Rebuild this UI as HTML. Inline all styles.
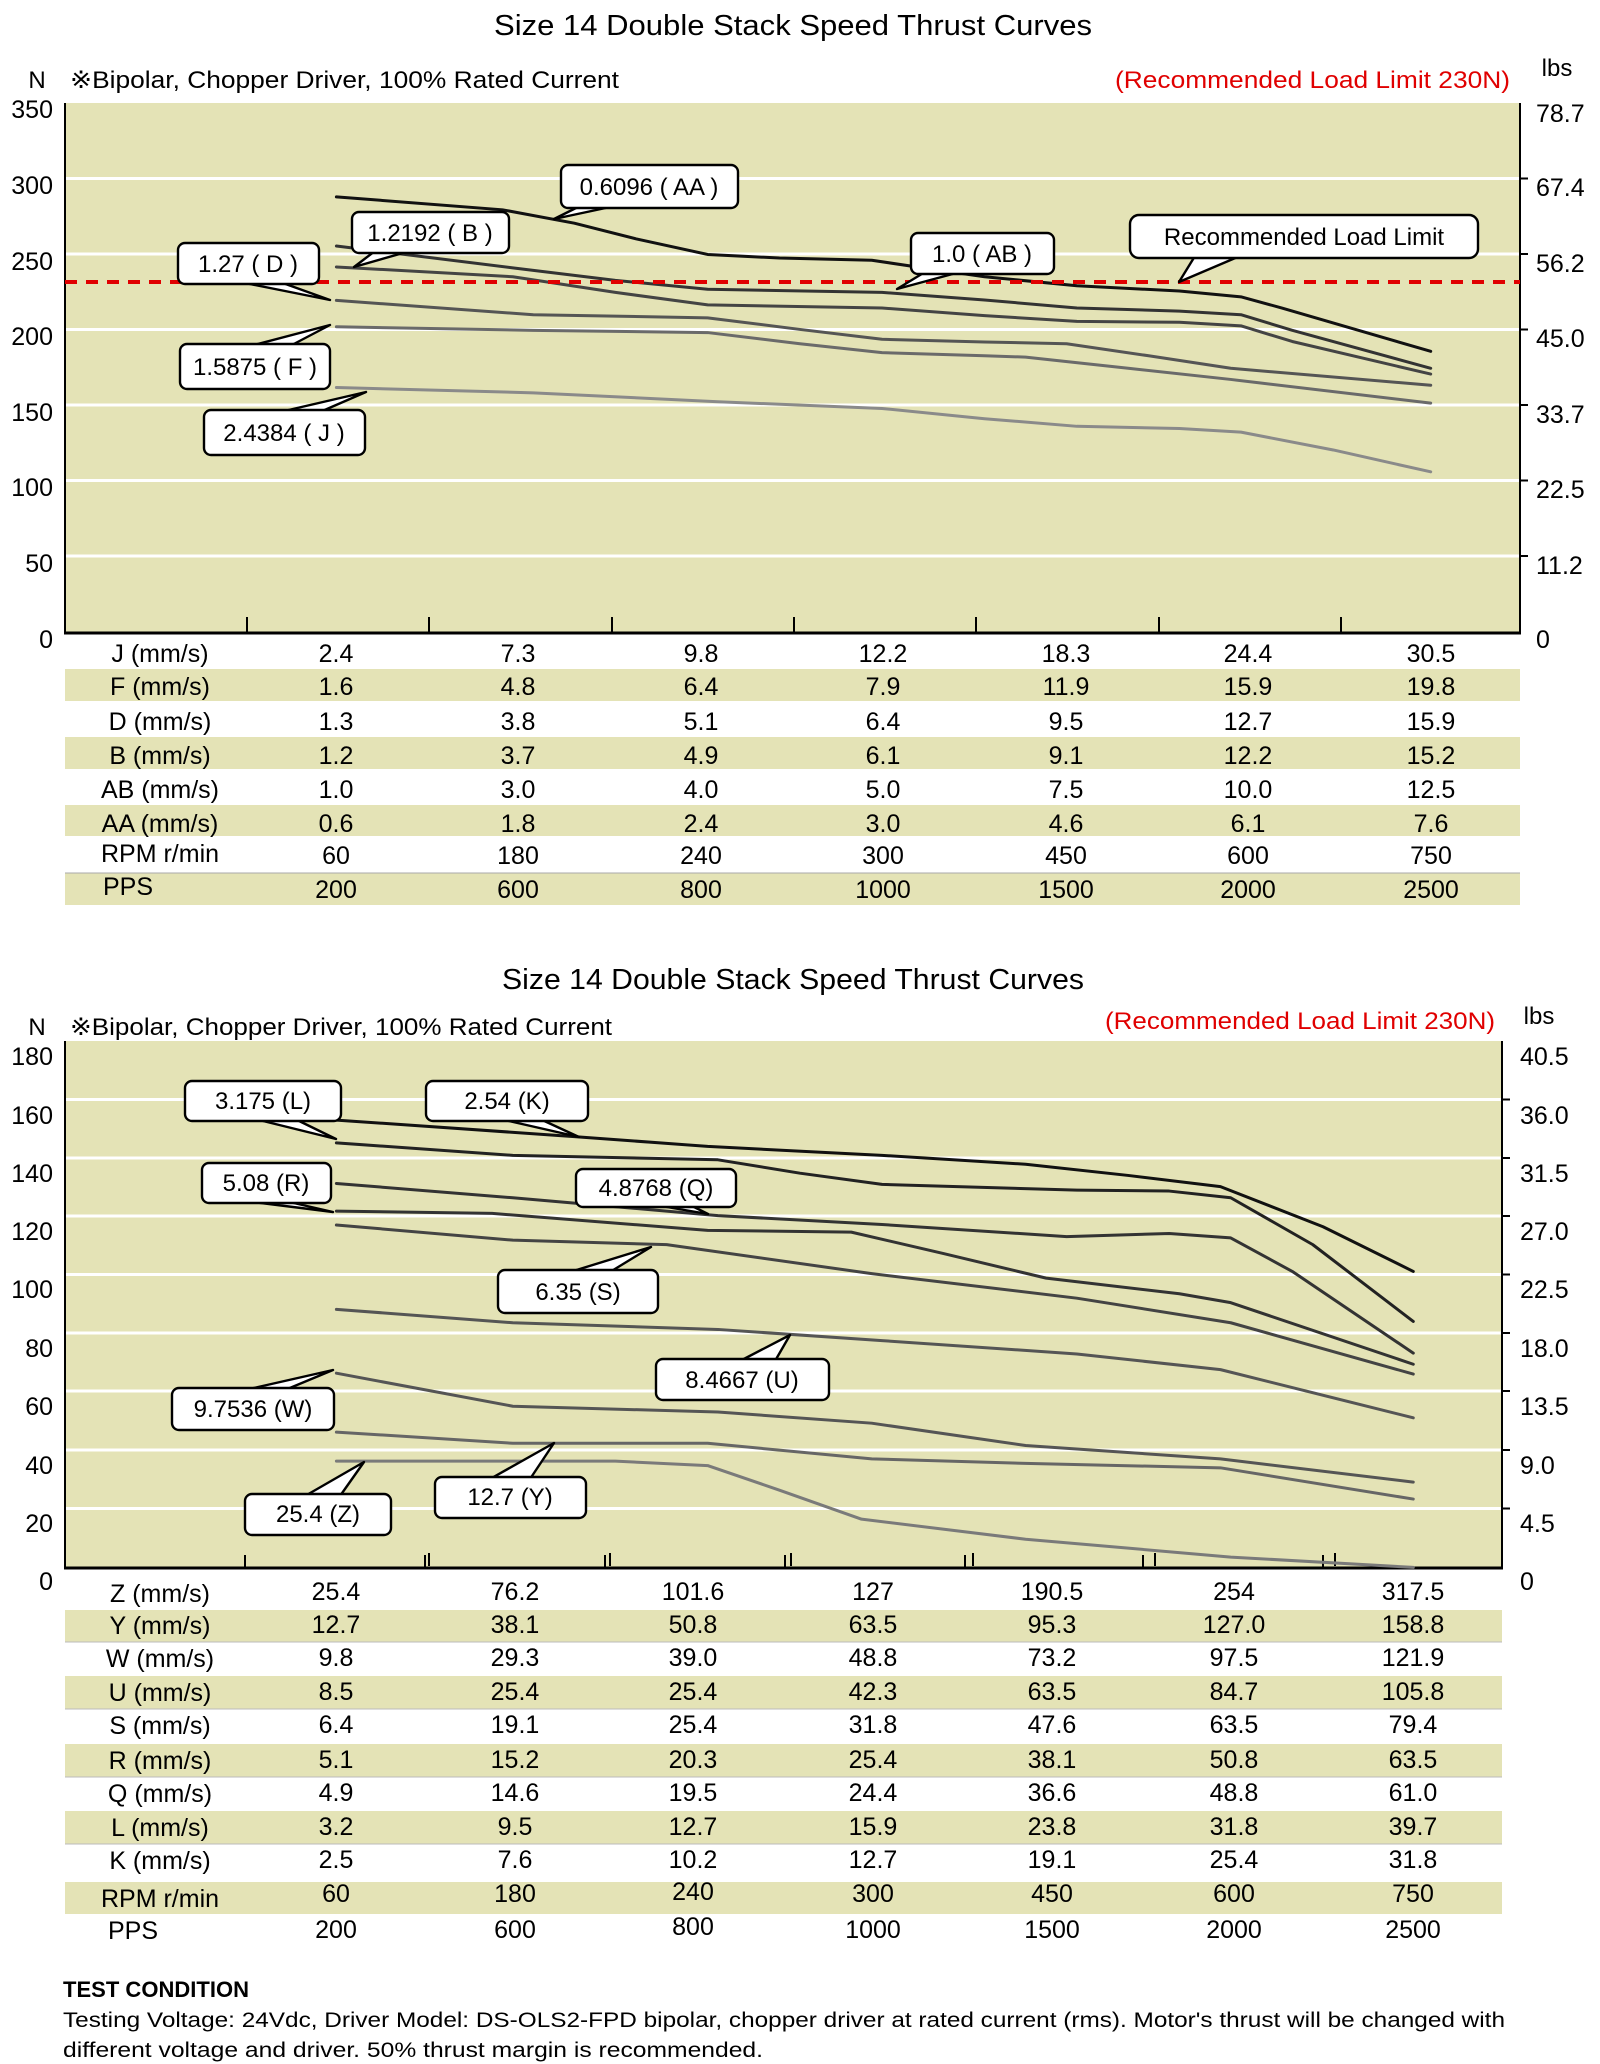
<!DOCTYPE html>
<html><head><meta charset="utf-8"><style>
body{margin:0;background:#fff}
svg{display:block;font-family:"Liberation Sans",sans-serif}
</style></head><body>
<svg width="1600" height="2064" viewBox="0 0 1600 2064" xmlns="http://www.w3.org/2000/svg">
<!-- ============ CHART 1 ============ -->
<text x="494" y="35" font-size="29" textLength="598" lengthAdjust="spacingAndGlyphs">Size 14  Double Stack Speed Thrust Curves</text>
<text x="37" y="88" font-size="24" text-anchor="middle">N</text>
<text x="70" y="88" font-size="24" textLength="549" lengthAdjust="spacingAndGlyphs">※Bipolar, Chopper Driver, 100% Rated Current</text>
<text x="1115" y="88" font-size="24" fill="#e00000" textLength="395" lengthAdjust="spacingAndGlyphs">(Recommended Load Limit 230N)</text>
<text x="1557" y="76" font-size="24" text-anchor="middle">lbs</text>
<rect x="65" y="103" width="1455" height="529" fill="#e4e3b6"/>
<g stroke="#fff" stroke-width="3">
<line x1="65" x2="1520" y1="178.5" y2="178.5"/><line x1="65" x2="1520" y1="254" y2="254"/>
<line x1="65" x2="1520" y1="329.5" y2="329.5"/><line x1="65" x2="1520" y1="405" y2="405"/>
<line x1="65" x2="1520" y1="480.5" y2="480.5"/><line x1="65" x2="1520" y1="556" y2="556"/>
</g>
<g stroke="#000" stroke-width="2">
<line x1="65" y1="103" x2="65" y2="634"/><line x1="1520" y1="103" x2="1520" y2="634"/>
<line x1="64" y1="633" x2="1521" y2="633" stroke-width="3"/>
<line x1="247" y1="633" x2="247" y2="617"/><line x1="429" y1="633" x2="429" y2="617"/>
<line x1="612" y1="633" x2="612" y2="617"/><line x1="794" y1="633" x2="794" y2="617"/>
<line x1="976" y1="633" x2="976" y2="617"/><line x1="1159" y1="633" x2="1159" y2="617"/>
<line x1="1341" y1="633" x2="1341" y2="617"/>
<line x1="1520" y1="178.5" x2="1528" y2="178.5"/><line x1="1520" y1="254" x2="1528" y2="254"/>
<line x1="1520" y1="329.5" x2="1528" y2="329.5"/><line x1="1520" y1="405" x2="1528" y2="405"/>
<line x1="1520" y1="480.5" x2="1528" y2="480.5"/><line x1="1520" y1="556" x2="1528" y2="556"/>
</g>
<g font-size="25" text-anchor="end">
<text x="53" y="118">350</text><text x="53" y="194">300</text><text x="53" y="270">250</text>
<text x="53" y="345">200</text><text x="53" y="421">150</text><text x="53" y="496">100</text>
<text x="53" y="572">50</text><text x="53" y="648">0</text>
</g>
<g font-size="25">
<text x="1536" y="122">78.7</text><text x="1536" y="196">67.4</text><text x="1536" y="272">56.2</text>
<text x="1536" y="347">45.0</text><text x="1536" y="423">33.7</text><text x="1536" y="498">22.5</text>
<text x="1536" y="574">11.2</text><text x="1536" y="648">0</text>
</g>
<g fill="none" stroke-linejoin="round" stroke-linecap="round" transform="scale(1.0256,0.4464)">
<polyline vector-effect="non-scaling-stroke" stroke="#111" stroke-width="3" points="328,441 490,470 560,500 620,535 690,570 760,578 850,583 900,600 960,620 1050,640 1150,652 1210,665 1250,690 1395,787"/>
<polyline vector-effect="non-scaling-stroke" stroke="#333" stroke-width="3" points="328,551 500,600 600,628 690,648 860,655 960,672 1050,690 1150,697 1210,705 1260,740 1395,825"/>
<polyline vector-effect="non-scaling-stroke" stroke="#444" stroke-width="3" points="328,598 500,620 600,655 690,683 860,690 960,707 1050,720 1150,722 1210,730 1260,765 1395,838"/>
<polyline vector-effect="non-scaling-stroke" stroke="#555" stroke-width="3" points="328,673 520,705 690,712 780,738 860,760 960,766 1040,770 1120,797 1200,825 1395,863"/>
<polyline vector-effect="non-scaling-stroke" stroke="#6a6a6a" stroke-width="3" points="328,732 520,740 690,745 780,770 860,790 960,797 1000,800 1100,825 1200,850 1395,903"/>
<polyline vector-effect="non-scaling-stroke" stroke="#8a8a8a" stroke-width="3" points="328,868 520,880 700,900 860,915 960,938 1050,955 1150,960 1210,968 1300,1008 1395,1057"/>
</g>
<line x1="65" y1="282" x2="1520" y2="282" stroke="#e00000" stroke-width="4" stroke-dasharray="12,9"/>
<g fill="#fff" stroke="#000" stroke-width="2.4" stroke-linejoin="round">
<polygon points="580,206 615,206 554,219"/><rect x="561" y="165" width="177" height="43" rx="7"/>
<polygon points="375,251 410,251 354,267"/><rect x="352" y="212" width="157" height="41" rx="7"/>
<polygon points="240,282 280,282 330,300"/><rect x="178" y="243" width="141" height="41" rx="7"/>
<polygon points="925,272 960,272 897,289"/><rect x="911" y="233" width="143" height="41" rx="7"/>
<polygon points="1195,256 1240,256 1179,282"/><rect x="1130" y="215" width="348" height="43" rx="9"/>
<polygon points="250,346 290,346 330,325"/><rect x="180" y="344" width="150" height="45" rx="7"/>
<polygon points="280,412 320,412 366,392"/><rect x="204" y="410" width="161" height="45" rx="7"/>
</g>
<g font-size="24" text-anchor="middle">
<text x="649" y="195">0.6096 ( AA )</text>
<text x="430" y="241">1.2192 ( B )</text>
<text x="248" y="272">1.27 ( D )</text>
<text x="982" y="262">1.0 ( AB )</text>
<text x="1304" y="245">Recommended Load Limit</text>
<text x="255" y="375">1.5875 ( F )</text>
<text x="284" y="441">2.4384 ( J )</text>
</g>
<g fill="#e4e3b6">
<rect x="65" y="669" width="1455" height="32"/><rect x="65" y="737" width="1455" height="32"/>
<rect x="65" y="805" width="1455" height="31"/><rect x="65" y="873" width="1455" height="32"/>
</g>
<line x1="65" y1="873" x2="1520" y2="873" stroke="#aaa" stroke-width="1"/>
<g font-size="25" text-anchor="middle">
<g><text x="160" y="662">J (mm/s)</text><text x="336" y="662">2.4</text><text x="518" y="662">7.3</text><text x="701" y="662">9.8</text><text x="883" y="662">12.2</text><text x="1066" y="662">18.3</text><text x="1248" y="662">24.4</text><text x="1431" y="662">30.5</text></g>
<g><text x="160" y="695">F (mm/s)</text><text x="336" y="695">1.6</text><text x="518" y="695">4.8</text><text x="701" y="695">6.4</text><text x="883" y="695">7.9</text><text x="1066" y="695">11.9</text><text x="1248" y="695">15.9</text><text x="1431" y="695">19.8</text></g>
<g><text x="160" y="730">D (mm/s)</text><text x="336" y="730">1.3</text><text x="518" y="730">3.8</text><text x="701" y="730">5.1</text><text x="883" y="730">6.4</text><text x="1066" y="730">9.5</text><text x="1248" y="730">12.7</text><text x="1431" y="730">15.9</text></g>
<g><text x="160" y="764">B (mm/s)</text><text x="336" y="764">1.2</text><text x="518" y="764">3.7</text><text x="701" y="764">4.9</text><text x="883" y="764">6.1</text><text x="1066" y="764">9.1</text><text x="1248" y="764">12.2</text><text x="1431" y="764">15.2</text></g>
<g><text x="160" y="798">AB (mm/s)</text><text x="336" y="798">1.0</text><text x="518" y="798">3.0</text><text x="701" y="798">4.0</text><text x="883" y="798">5.0</text><text x="1066" y="798">7.5</text><text x="1248" y="798">10.0</text><text x="1431" y="798">12.5</text></g>
<g><text x="160" y="832">AA (mm/s)</text><text x="336" y="832">0.6</text><text x="518" y="832">1.8</text><text x="701" y="832">2.4</text><text x="883" y="832">3.0</text><text x="1066" y="832">4.6</text><text x="1248" y="832">6.1</text><text x="1431" y="832">7.6</text></g>
<g><text x="160" y="862">RPM r/min</text><text x="336" y="864">60</text><text x="518" y="864">180</text><text x="701" y="864">240</text><text x="883" y="864">300</text><text x="1066" y="864">450</text><text x="1248" y="864">600</text><text x="1431" y="864">750</text></g>
<g><text x="128" y="895">PPS</text><text x="336" y="898">200</text><text x="518" y="898">600</text><text x="701" y="898">800</text><text x="883" y="898">1000</text><text x="1066" y="898">1500</text><text x="1248" y="898">2000</text><text x="1431" y="898">2500</text></g>
</g>

<!-- ============ CHART 2 ============ -->
<text x="502" y="989" font-size="29" textLength="582" lengthAdjust="spacingAndGlyphs">Size 14 Double Stack Speed Thrust Curves</text>
<text x="37" y="1035" font-size="24" text-anchor="middle">N</text>
<text x="70" y="1035" font-size="24" textLength="542" lengthAdjust="spacingAndGlyphs">※Bipolar, Chopper Driver, 100% Rated Current</text>
<text x="1105" y="1029" font-size="24" fill="#e00000" textLength="390" lengthAdjust="spacingAndGlyphs">(Recommended Load Limit 230N)</text>
<text x="1539" y="1024" font-size="24" text-anchor="middle">lbs</text>
<rect x="65" y="1041" width="1437" height="526" fill="#e4e3b6"/>
<g stroke="#fff" stroke-width="3">
<line x1="65" x2="1502" y1="1099.5" y2="1099.5"/><line x1="65" x2="1502" y1="1158" y2="1158"/>
<line x1="65" x2="1502" y1="1216" y2="1216"/><line x1="65" x2="1502" y1="1274.5" y2="1274.5"/>
<line x1="65" x2="1502" y1="1333" y2="1333"/><line x1="65" x2="1502" y1="1391" y2="1391"/>
<line x1="65" x2="1502" y1="1450" y2="1450"/><line x1="65" x2="1502" y1="1508.5" y2="1508.5"/>
</g>
<g stroke="#000" stroke-width="2">
<line x1="65" y1="1041" x2="65" y2="1569"/><line x1="1502" y1="1041" x2="1502" y2="1569"/>
<line x1="64" y1="1568" x2="1503" y2="1568" stroke-width="3"/>
<line x1="1502" y1="1099.5" x2="1510" y2="1099.5"/><line x1="1502" y1="1158" x2="1510" y2="1158"/>
<line x1="1502" y1="1216" x2="1510" y2="1216"/><line x1="1502" y1="1274.5" x2="1510" y2="1274.5"/>
<line x1="1502" y1="1333" x2="1510" y2="1333"/><line x1="1502" y1="1391" x2="1510" y2="1391"/>
<line x1="1502" y1="1450" x2="1510" y2="1450"/><line x1="1502" y1="1508.5" x2="1510" y2="1508.5"/>
<line x1="245" y1="1568" x2="245" y2="1555"/><line x1="425" y1="1568" x2="425" y2="1555"/><line x1="429" y1="1566" x2="429" y2="1553"/>
<line x1="605" y1="1568" x2="605" y2="1555"/><line x1="610" y1="1566" x2="610" y2="1553"/>
<line x1="785" y1="1568" x2="785" y2="1555"/><line x1="791" y1="1566" x2="791" y2="1553"/>
<line x1="965" y1="1568" x2="965" y2="1555"/><line x1="973" y1="1566" x2="973" y2="1553"/>
<line x1="1143" y1="1568" x2="1143" y2="1555"/><line x1="1155" y1="1566" x2="1155" y2="1553"/>
<line x1="1323" y1="1568" x2="1323" y2="1555"/><line x1="1335" y1="1566" x2="1335" y2="1553"/>
</g>
<g font-size="25" text-anchor="end">
<text x="53" y="1065">180</text><text x="53" y="1124">160</text><text x="53" y="1182">140</text>
<text x="53" y="1240">120</text><text x="53" y="1298">100</text><text x="53" y="1357">80</text>
<text x="53" y="1415">60</text><text x="53" y="1474">40</text><text x="53" y="1532">20</text><text x="53" y="1590">0</text>
</g>
<g font-size="25">
<text x="1520" y="1065">40.5</text><text x="1520" y="1124">36.0</text><text x="1520" y="1182">31.5</text>
<text x="1520" y="1240">27.0</text><text x="1520" y="1298">22.5</text><text x="1520" y="1357">18.0</text>
<text x="1520" y="1415">13.5</text><text x="1520" y="1474">9.0</text><text x="1520" y="1532">4.5</text><text x="1520" y="1590">0</text>
</g>
<g fill="none" stroke-linejoin="round" stroke-linecap="round" transform="translate(0,950) scale(1.0256,0.4464)">
<polyline vector-effect="non-scaling-stroke" stroke="#111" stroke-width="3" points="328,381 560,418 690,440 860,460 1000,480 1100,505 1190,530 1290,620 1378,720"/>
<polyline vector-effect="non-scaling-stroke" stroke="#222" stroke-width="3" points="328,432 500,460 700,470 780,500 860,525 1050,538 1140,540 1200,555 1280,660 1378,832"/>
<polyline vector-effect="non-scaling-stroke" stroke="#333" stroke-width="3" points="328,523 500,555 700,595 860,615 1040,642 1140,635 1200,645 1260,720 1378,903"/>
<polyline vector-effect="non-scaling-stroke" stroke="#333" stroke-width="3" points="328,585 480,590 690,628 830,632 920,680 1020,735 1150,770 1200,790 1378,928"/>
<polyline vector-effect="non-scaling-stroke" stroke="#444" stroke-width="3" points="328,616 500,650 650,660 850,725 1050,780 1200,835 1378,950"/>
<polyline vector-effect="non-scaling-stroke" stroke="#555" stroke-width="3" points="328,805 500,835 700,850 860,875 1050,905 1190,940 1378,1048"/>
<polyline vector-effect="non-scaling-stroke" stroke="#555" stroke-width="3" points="328,948 500,1022 700,1035 850,1060 1000,1110 1190,1140 1378,1192"/>
<polyline vector-effect="non-scaling-stroke" stroke="#666" stroke-width="3" points="328,1080 500,1105 690,1105 850,1140 1000,1150 1190,1160 1378,1230"/>
<polyline vector-effect="non-scaling-stroke" stroke="#7a7a7a" stroke-width="3" points="328,1145 600,1145 690,1155 760,1210 840,1275 1000,1320 1100,1340 1200,1360 1378,1383"/>
</g>
<g fill="#fff" stroke="#000" stroke-width="2.4" stroke-linejoin="round">
<polygon points="255,1119 295,1119 336,1139"/><rect x="185" y="1081" width="156" height="40" rx="7"/>
<polygon points="500,1119 540,1119 579,1137"/><rect x="426" y="1081" width="162" height="40" rx="7"/>
<polygon points="245,1201 285,1201 333,1212"/><rect x="202" y="1163" width="129" height="40" rx="7"/>
<polygon points="655,1205 690,1205 708,1214"/><rect x="576" y="1169" width="160" height="38" rx="7"/>
<polygon points="570,1272 610,1272 651,1247"/><rect x="498" y="1270" width="160" height="43" rx="7"/>
<polygon points="740,1361 775,1361 790,1335"/><rect x="656" y="1359" width="173" height="41" rx="7"/>
<polygon points="245,1390 285,1390 333,1370"/><rect x="172" y="1388" width="162" height="42" rx="7"/>
<polygon points="305,1496 340,1496 364,1462"/><rect x="245" y="1494" width="146" height="41" rx="7"/>
<polygon points="490,1479 530,1479 554,1443"/><rect x="435" y="1477" width="151" height="41" rx="7"/>
</g>
<g font-size="24" text-anchor="middle">
<text x="263" y="1109">3.175  (L)</text>
<text x="507" y="1109">2.54  (K)</text>
<text x="266" y="1191">5.08  (R)</text>
<text x="656" y="1196">4.8768  (Q)</text>
<text x="578" y="1300">6.35  (S)</text>
<text x="742" y="1388">8.4667  (U)</text>
<text x="253" y="1417">9.7536  (W)</text>
<text x="318" y="1522">25.4  (Z)</text>
<text x="510" y="1505">12.7  (Y)</text>
</g>
<g fill="#e4e3b6">
<rect x="65" y="1610" width="1437" height="32"/><rect x="65" y="1676" width="1437" height="33"/>
<rect x="65" y="1744" width="1437" height="33"/><rect x="65" y="1811" width="1437" height="33"/>
<rect x="65" y="1882" width="1437" height="32"/>
</g>
<g stroke="#bbb" stroke-width="1">
<line x1="65" x2="1502" y1="1642" y2="1642"/><line x1="65" x2="1502" y1="1709" y2="1709"/>
<line x1="65" x2="1502" y1="1777" y2="1777"/><line x1="65" x2="1502" y1="1844" y2="1844"/>
</g>
<g font-size="25" text-anchor="middle">
<g><text x="160" y="1602">Z (mm/s)</text><text x="336" y="1600">25.4</text><text x="515" y="1600">76.2</text><text x="693" y="1600">101.6</text><text x="873" y="1600">127</text><text x="1052" y="1600">190.5</text><text x="1234" y="1600">254</text><text x="1413" y="1600">317.5</text></g>
<g><text x="160" y="1634">Y (mm/s)</text><text x="336" y="1633">12.7</text><text x="515" y="1633">38.1</text><text x="693" y="1633">50.8</text><text x="873" y="1633">63.5</text><text x="1052" y="1633">95.3</text><text x="1234" y="1633">127.0</text><text x="1413" y="1633">158.8</text></g>
<g><text x="160" y="1667">W (mm/s)</text><text x="336" y="1666">9.8</text><text x="515" y="1666">29.3</text><text x="693" y="1666">39.0</text><text x="873" y="1666">48.8</text><text x="1052" y="1666">73.2</text><text x="1234" y="1666">97.5</text><text x="1413" y="1666">121.9</text></g>
<g><text x="160" y="1701">U (mm/s)</text><text x="336" y="1700">8.5</text><text x="515" y="1700">25.4</text><text x="693" y="1700">25.4</text><text x="873" y="1700">42.3</text><text x="1052" y="1700">63.5</text><text x="1234" y="1700">84.7</text><text x="1413" y="1700">105.8</text></g>
<g><text x="160" y="1734">S (mm/s)</text><text x="336" y="1733">6.4</text><text x="515" y="1733">19.1</text><text x="693" y="1733">25.4</text><text x="873" y="1733">31.8</text><text x="1052" y="1733">47.6</text><text x="1234" y="1733">63.5</text><text x="1413" y="1733">79.4</text></g>
<g><text x="160" y="1769">R (mm/s)</text><text x="336" y="1768">5.1</text><text x="515" y="1768">15.2</text><text x="693" y="1768">20.3</text><text x="873" y="1768">25.4</text><text x="1052" y="1768">38.1</text><text x="1234" y="1768">50.8</text><text x="1413" y="1768">63.5</text></g>
<g><text x="160" y="1802">Q (mm/s)</text><text x="336" y="1801">4.9</text><text x="515" y="1801">14.6</text><text x="693" y="1801">19.5</text><text x="873" y="1801">24.4</text><text x="1052" y="1801">36.6</text><text x="1234" y="1801">48.8</text><text x="1413" y="1801">61.0</text></g>
<g><text x="160" y="1836">L (mm/s)</text><text x="336" y="1835">3.2</text><text x="515" y="1835">9.5</text><text x="693" y="1835">12.7</text><text x="873" y="1835">15.9</text><text x="1052" y="1835">23.8</text><text x="1234" y="1835">31.8</text><text x="1413" y="1835">39.7</text></g>
<g><text x="160" y="1869">K (mm/s)</text><text x="336" y="1868">2.5</text><text x="515" y="1868">7.6</text><text x="693" y="1868">10.2</text><text x="873" y="1868">12.7</text><text x="1052" y="1868">19.1</text><text x="1234" y="1868">25.4</text><text x="1413" y="1868">31.8</text></g>
<g><text x="160" y="1907">RPM r/min</text><text x="336" y="1902">60</text><text x="515" y="1902">180</text><text x="693" y="1900">240</text><text x="873" y="1902">300</text><text x="1052" y="1902">450</text><text x="1234" y="1902">600</text><text x="1413" y="1902">750</text></g>
<g><text x="133" y="1939">PPS</text><text x="336" y="1938">200</text><text x="515" y="1938">600</text><text x="693" y="1935">800</text><text x="873" y="1938">1000</text><text x="1052" y="1938">1500</text><text x="1234" y="1938">2000</text><text x="1413" y="1938">2500</text></g>
</g>
<text x="63" y="1997" font-size="22" font-weight="bold" textLength="186">TEST CONDITION</text>
<text x="63" y="2027" font-size="21" textLength="1442" lengthAdjust="spacingAndGlyphs">Testing Voltage: 24Vdc, Driver Model: DS-OLS2-FPD bipolar, chopper driver at rated current (rms). Motor's thrust will be changed with</text>
<text x="63" y="2057" font-size="21" textLength="700" lengthAdjust="spacingAndGlyphs">different voltage and driver. 50% thrust margin is recommended.</text>
</svg>
</body></html>
